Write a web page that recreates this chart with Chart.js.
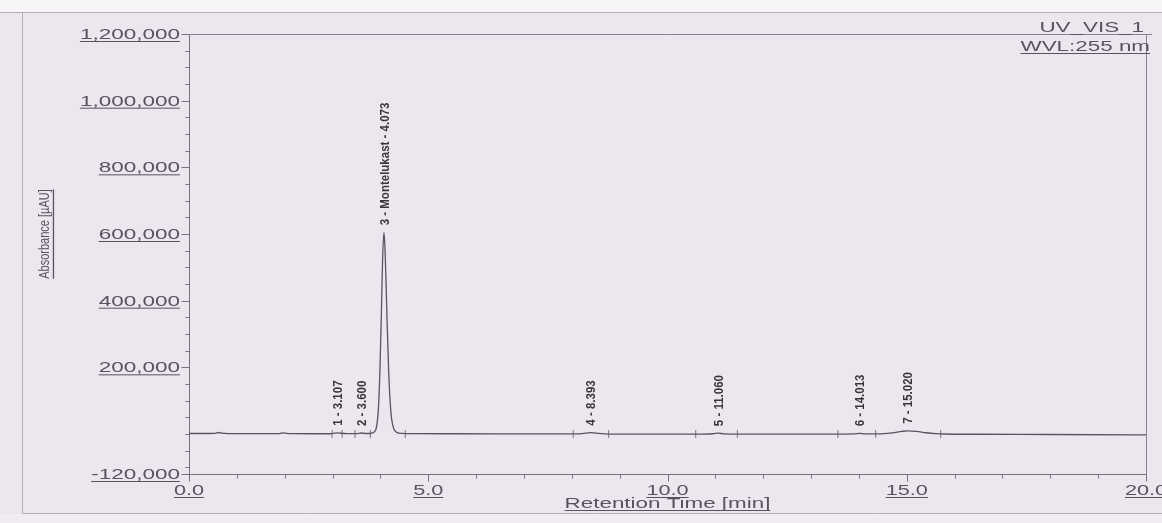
<!DOCTYPE html>
<html>
<head>
<meta charset="utf-8">
<title>UV_VIS_1 chromatogram</title>
<script src="https://cdn.jsdelivr.net/npm/chart.js@4.4.1/dist/chart.umd.min.js"></script>
<style>
  html, body { margin: 0; padding: 0; background: #ede6ef; }
  canvas { display: block; }
</style>
</head>
<body>
<canvas id="chrom" width="1162" height="523"></canvas>
<script>
// Detector trace: retention time [min] and absorbance [µAU]
const retentionTime = [
  0.00, 0.40, 0.55, 0.62, 0.68, 0.75, 1.00, 1.50, 1.90, 1.97, 2.03, 2.20, 2.60, 2.95,
  3.05, 3.107, 3.17, 3.30, 3.50, 3.60, 3.68, 3.78, 3.86, 3.92, 3.96, 3.99, 4.02, 4.045,
  4.073, 4.095, 4.115, 4.14, 4.17, 4.20, 4.235, 4.28, 4.34, 4.45, 4.70, 5.50, 6.50, 7.50,
  8.10, 8.30, 8.393, 8.50, 8.70, 9.20, 10.00, 10.60, 10.95, 11.06, 11.18, 11.60, 12.50,
  13.50, 13.90, 14.013, 14.12, 14.40, 14.70, 14.90, 15.02, 15.20, 15.40, 15.60, 15.80,
  16.50, 18.00, 20.00
];
const absorbance = [
  1500, 1500, 1800, 4500, 3000, 1800, 1200, 1000, 1200, 3500, 2000, 1000, 800, 800,
  2500, 3500, 2200, 1000, 1200, 3000, 1500, 1500, 5000, 22000, 80000, 190000, 360000, 520000,
  605000, 560000, 470000, 340000, 200000, 105000, 45000, 16000, 5000, 1800, 1000, 700, 500, 300,
  300, 2500, 4000, 2500, 500, -500, -600, -500, 800, 2500, 500, -300, -300,
  -400, 200, 2000, 200, 100, 3500, 8000, 9500, 8000, 3800, 1000, 0,
  -800, -1500, -2500
];

// Integrated peaks
const peakNames   = ['1 - 3.107', '2 - 3.600', '3 - Montelukast - 4.073', '4 - 8.393', '5 - 11.060', '6 - 14.013', '7 - 15.020'];
const peakTimes   = [3.107, 3.600, 4.073, 8.393, 11.060, 14.013, 15.020];
const peakHeights = [3500, 3000, 605000, 4000, 2500, 2000, 9500];

// Peak start / end markers
const delimiterTimes = [2.99, 3.20, 3.47, 3.79, 4.52, 8.03, 8.77, 10.59, 11.46, 13.56, 14.35, 15.71];

// Axis ticks
const yTickValues = [-120000, 200000, 400000, 600000, 800000, 1000000, 1200000];
const yTickLabels = ['-120,000', '200,000', '400,000', '600,000', '800,000', '1,000,000', '1,200,000'];
const yMinorStep = 50000;
const xTickValues = [0, 5, 10, 15, 20];
const xTickLabels = ['0.0', '5.0', '10.0', '15.0', '20.0'];
const xMinorStep = 1;

const channelName = 'UV_VIS_1';
const wavelengthText = 'WVL:255 nm';
const xTitle = 'Retention Time [min]';
const yTitle = 'Absorbance [µAU]';

const TEXT = '#57545e';
const LABEL = '#38363d';
const AXIS = '#75737c';

// Text printed with the wide aspect of the report font
function wideText(ctx, text, x, y, o) {
  ctx.save();
  ctx.translate(x, y);
  ctx.scale(o.sx || 1, 1);
  if (o.rot) ctx.rotate(o.rot);
  ctx.font = o.font;
  ctx.fillStyle = o.color || TEXT;
  ctx.textAlign = o.align || 'left';
  ctx.textBaseline = o.baseline || 'alphabetic';
  ctx.fillText(text, 0, 0);
  if (o.underline) {
    const w = ctx.measureText(text).width;
    const x0 = o.align === 'right' ? -w : (o.align === 'center' ? -w / 2 : 0);
    ctx.fillRect(x0, o.ulOffset || 2, w, 1);
  }
  ctx.restore();
}

const pagePlugin = {
  id: 'page',
  beforeDraw(chart) {
    const ctx = chart.ctx;
    const W = chart.width, H = chart.height;
    ctx.save();
    ctx.fillStyle = '#ede6ef';
    ctx.fillRect(0, 0, W, H);
    ctx.fillStyle = '#f7f5f8';
    ctx.fillRect(0, 0, W, 12);
    ctx.fillStyle = '#f1ebf2';
    ctx.fillRect(0, 514, W, H - 514);
    ctx.strokeStyle = '#b4aeb8';
    ctx.lineWidth = 1;
    ctx.beginPath();
    ctx.moveTo(22.5, 12); ctx.lineTo(22.5, 513.5); ctx.lineTo(W, 513.5);
    ctx.moveTo(0, 12.5); ctx.lineTo(W, 12.5);
    ctx.stroke();
    ctx.restore();
  }
};

const axesPlugin = {
  id: 'axesDecor',
  afterDraw(chart) {
    const ctx = chart.ctx;
    const xs = chart.scales.x, ys = chart.scales.y;
    const a = chart.chartArea;
    ctx.save();
    // frame: top and right
    ctx.strokeStyle = '#7f8792';
    ctx.lineWidth = 1;
    ctx.beginPath();
    ctx.moveTo(a.left, Math.round(a.top) + 0.5);
    ctx.lineTo(a.right + 6, Math.round(a.top) + 0.5);
    ctx.moveTo(Math.round(a.right) + 0.5, a.top);
    ctx.lineTo(Math.round(a.right) + 0.5, a.bottom + 4);
    ctx.stroke();

    // y ticks
    ctx.strokeStyle = AXIS;
    ctx.beginPath();
    const xl = Math.round(a.left) + 0.5;
    for (let v = -100000; v < ys.max; v += yMinorStep) {
      if (yTickValues.includes(v)) continue;
      const py = Math.round(ys.getPixelForValue(v)) + 0.5;
      ctx.moveTo(xl - 4, py); ctx.lineTo(xl, py);
    }
    yTickValues.forEach(v => {
      const py = Math.round(ys.getPixelForValue(v)) + 0.5;
      ctx.moveTo(xl - 8, py); ctx.lineTo(xl, py);
    });
    // x ticks
    const yb = Math.round(a.bottom) + 0.5;
    for (let v = xs.min; v <= xs.max; v += xMinorStep) {
      if (xTickValues.includes(v)) continue;
      const px = Math.round(xs.getPixelForValue(v)) + 0.5;
      ctx.moveTo(px, yb); ctx.lineTo(px, yb + 4);
    }
    xTickValues.forEach(v => {
      const px = Math.round(xs.getPixelForValue(v)) + 0.5;
      ctx.moveTo(px, yb); ctx.lineTo(px, yb + 7);
    });
    ctx.stroke();
    ctx.restore();

    // tick labels
    yTickValues.forEach((v, i) => {
      const py = ys.getPixelForValue(v);
      wideText(ctx, yTickLabels[i], a.left - 9, py + 5,
        { font: '15px "Liberation Sans", Arial, sans-serif', sx: 1.5, align: 'right', underline: true, ulOffset: 2 });
    });
    xTickValues.forEach((v, i) => {
      const px = xs.getPixelForValue(v);
      wideText(ctx, xTickLabels[i], px, a.bottom + 21,
        { font: '14px "Liberation Sans", Arial, sans-serif', sx: 1.55, align: 'center', underline: true, ulOffset: 2 });
    });

    // axis titles
    wideText(ctx, xTitle, (a.left + a.right) / 2, 508,
      { font: '14px "Liberation Sans", Arial, sans-serif', sx: 1.6, align: 'center', underline: true, ulOffset: 2 });
    wideText(ctx, yTitle, 45, 234,
      { font: '11px "Liberation Sans", Arial, sans-serif', sx: 1.3, rot: -Math.PI / 2, align: 'center', baseline: 'middle', underline: true, ulOffset: 6 });

    // channel info
    wideText(ctx, channelName, a.right - 2, a.top - 2,
      { font: '14px "Liberation Sans", Arial, sans-serif', sx: 1.6, align: 'right' });
    wideText(ctx, wavelengthText, a.right + 4, a.top + 17,
      { font: '14px "Liberation Sans", Arial, sans-serif', sx: 1.6, align: 'right', underline: true, ulOffset: 2 });
  }
};

const peakLabelPlugin = {
  id: 'peakLabels',
  afterDatasetsDraw(chart) {
    const ctx = chart.ctx;
    const xs = chart.scales.x, ys = chart.scales.y;
    peakNames.forEach((name, i) => {
      const px = xs.getPixelForValue(peakTimes[i]);
      const py = ys.getPixelForValue(peakHeights[i]) - 7;
      wideText(ctx, name, px + 1, py,
        { font: 'bold 11.5px "Liberation Sans", Arial, sans-serif', sx: 1.15, rot: -Math.PI / 2,
          align: 'left', baseline: 'middle', color: LABEL });
    });
  }
};

new Chart(document.getElementById('chrom'), {
  type: 'scatter',
  data: {
    datasets: [
      {
        label: 'UV_VIS_1',
        data: retentionTime.map((t, i) => ({ x: t, y: absorbance[i] })),
        showLine: true,
        borderColor: '#56545f',
        borderWidth: 1.3,
        pointRadius: 0,
        cubicInterpolationMode: 'monotone',
        order: 1
      },
      {
        label: 'Peak limits',
        data: delimiterTimes.map(t => ({ x: t, y: 0 })),
        showLine: false,
        pointStyle: 'line',
        rotation: 90,
        pointRadius: 4,
        borderColor: '#7a7782',
        borderWidth: 1,
        order: 2
      }
    ]
  },
  options: {
    responsive: false,
    animation: false,
    devicePixelRatio: 1,
    layout: { padding: { left: 189, right: 16, top: 34, bottom: 49 } },
    plugins: { legend: { display: false }, tooltip: { enabled: false } },
    scales: {
      x: {
        type: 'linear', min: 0, max: 20,
        grid: { display: false, drawTicks: false },
        ticks: { display: false },
        border: { display: true, color: AXIS, width: 1 },
        afterFit(s) { s.height = 0; s.paddingLeft = 0; s.paddingRight = 0; }
      },
      y: {
        type: 'linear', min: -120000, max: 1200000,
        grid: { display: false, drawTicks: false },
        ticks: { display: false },
        border: { display: true, color: AXIS, width: 1 },
        afterFit(s) { s.width = 0; s.paddingTop = 0; s.paddingBottom = 0; }
      }
    }
  },
  plugins: [pagePlugin, axesPlugin, peakLabelPlugin]
});
</script>
</body>
</html>
